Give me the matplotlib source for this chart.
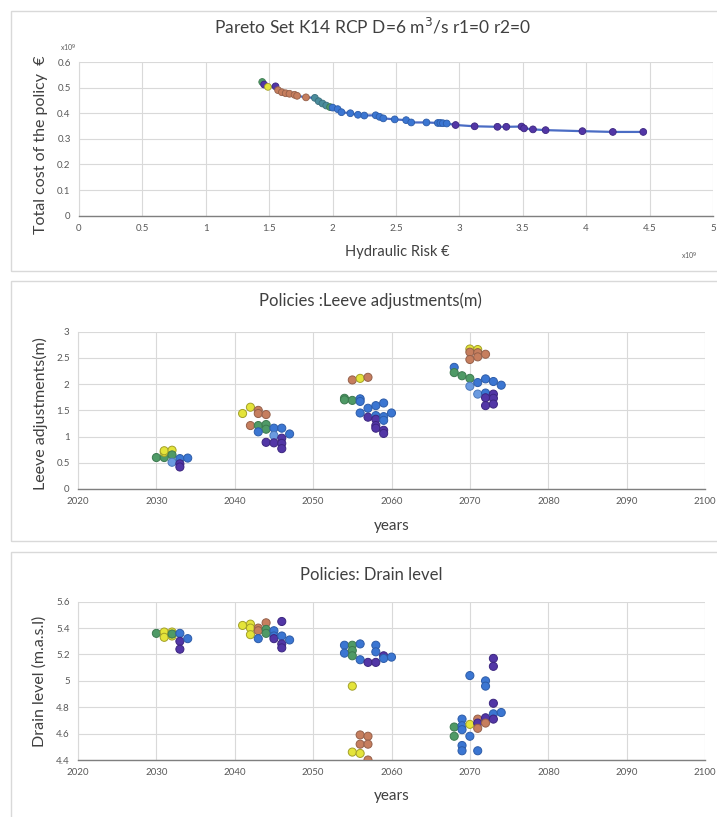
import matplotlib.pyplot as plt
import numpy as np
from matplotlib.patches import Rectangle

plt.rcParams['font.family'] = ['Lato', 'DejaVu Sans']

# Pareto front (x10^9 EUR)
pareto_risk = [1.445, 1.46, 1.49, 1.55, 1.57, 1.60, 1.63, 1.66, 1.70, 1.72, 1.79, 1.86,
               1.89, 1.92, 1.95, 1.98, 2.00, 2.04, 2.07, 2.14, 2.20, 2.25, 2.34, 2.37,
               2.40, 2.49, 2.58, 2.62, 2.74, 2.83, 2.85, 2.87, 2.90, 2.97, 3.12, 3.30,
               3.37, 3.49, 3.51, 3.58, 3.68, 3.97, 4.21, 4.45]
pareto_cost = [0.522, 0.512, 0.503, 0.505, 0.490, 0.482, 0.478, 0.476, 0.472, 0.468, 0.462, 0.460,
               0.447, 0.438, 0.430, 0.424, 0.422, 0.416, 0.404, 0.400, 0.394, 0.391, 0.392, 0.386,
               0.380, 0.376, 0.373, 0.364, 0.364, 0.362, 0.362, 0.361, 0.360, 0.354, 0.349, 0.347,
               0.347, 0.348, 0.341, 0.337, 0.334, 0.330, 0.327, 0.327]
pareto_group = ['G', 'P', 'Y', 'P', 'O', 'O', 'O', 'O', 'O', 'O', 'O', 'T',
                'T', 'T', 'T', 'G', 'B', 'B', 'B', 'B', 'B', 'B', 'B', 'B',
                'B', 'B', 'B', 'B', 'B', 'B', 'B', 'B', 'B', 'P', 'P', 'P',
                'P', 'P', 'P', 'P', 'P', 'P', 'P', 'P']

# Leeve adjustments (m)
leeve_years = [2030, 2031, 2031, 2031, 2032, 2032, 2032, 2033, 2033, 2033, 2034,
               2041, 2042, 2043, 2043, 2044, 2042, 2043, 2044, 2044, 2043, 2045, 2046, 2045, 2047,
               2044, 2045, 2046, 2046, 2046,
               2054, 2054, 2055, 2056, 2056, 2055, 2056, 2057, 2057, 2058, 2059, 2056, 2057,
               2058, 2058, 2058, 2058, 2059, 2059, 2059, 2059, 2060,
               2070, 2071, 2070, 2071, 2071, 2070, 2072, 2068, 2068, 2069, 2070, 2070, 2071,
               2072, 2073, 2074, 2071, 2072, 2072, 2072, 2073, 2073, 2073]
leeve_values = [0.60, 0.60, 0.70, 0.73, 0.74, 0.65, 0.51, 0.58, 0.48, 0.42, 0.59,
                1.44, 1.56, 1.50, 1.44, 1.42, 1.21, 1.21, 1.23, 1.14, 1.09, 1.16, 1.16, 1.02, 1.05,
                0.89, 0.88, 0.97, 0.87, 0.77,
                1.73, 1.70, 1.69, 1.72, 1.67, 2.08, 2.11, 2.13, 1.54, 1.59, 1.64, 1.45, 1.37,
                1.40, 1.33, 1.21, 1.16, 1.38, 1.31, 1.12, 1.06, 1.45,
                2.67, 2.66, 2.61, 2.60, 2.52, 2.47, 2.57, 2.32, 2.22, 2.16, 2.11, 1.96, 2.03,
                2.10, 2.05, 1.98, 1.81, 1.83, 1.74, 1.59, 1.81, 1.73, 1.62]
leeve_group = ['G', 'G', 'Y', 'Y', 'Y', 'G', 'L', 'B', 'P', 'P', 'B',
               'Y', 'Y', 'O', 'O', 'O', 'O', 'G', 'G', 'G', 'B', 'B', 'B', 'L', 'B',
               'P', 'P', 'P', 'P', 'P',
               'G', 'G', 'G', 'B', 'B', 'O', 'Y', 'O', 'B', 'B', 'B', 'B', 'P',
               'B', 'P', 'P', 'P', 'B', 'B', 'P', 'P', 'B',
               'Y', 'Y', 'O', 'O', 'O', 'O', 'O', 'B', 'G', 'G', 'G', 'L', 'B',
               'B', 'B', 'B', 'L', 'B', 'P', 'P', 'P', 'P', 'P']

# Drain level (m.a.s.l)
drain_years = [2030, 2031, 2031, 2032, 2032, 2032, 2033, 2033, 2033, 2034,
               2041, 2042, 2042, 2042, 2043, 2043, 2043, 2044, 2044, 2044, 2045, 2045, 2045,
               2046, 2046, 2046, 2046, 2047,
               2054, 2054, 2055, 2055, 2055, 2056, 2056, 2057, 2058, 2058, 2058, 2059, 2059,
               2060, 2055, 2056, 2056, 2057, 2057, 2055, 2056, 2057,
               2068, 2068, 2069, 2069, 2069, 2069, 2069, 2070, 2070, 2070, 2071, 2071, 2071,
               2071, 2072, 2072, 2072, 2072, 2073, 2073, 2073, 2073, 2073, 2074]
drain_values = [5.36, 5.37, 5.33, 5.37, 5.34, 5.355, 5.36, 5.30, 5.24, 5.32,
                5.42, 5.43, 5.40, 5.35, 5.40, 5.38, 5.32, 5.44, 5.39, 5.36, 5.38, 5.34, 5.32,
                5.45, 5.34, 5.28, 5.25, 5.31,
                5.27, 5.21, 5.27, 5.23, 5.19, 5.28, 5.16, 5.14, 5.27, 5.22, 5.14, 5.19, 5.17,
                5.18, 4.96, 4.59, 4.52, 4.58, 4.52, 4.46, 4.45, 4.40,
                4.65, 4.58, 4.71, 4.66, 4.63, 4.51, 4.47, 5.04, 4.67, 4.58, 4.71, 4.68, 4.64,
                4.47, 5.00, 4.96, 4.72, 4.68, 5.17, 5.11, 4.83, 4.75, 4.71, 4.76]
drain_group = ['G', 'Y', 'Y', 'Y', 'Y', 'G', 'B', 'P', 'P', 'B',
               'Y', 'Y', 'Y', 'Y', 'O', 'O', 'B', 'O', 'G', 'G', 'B', 'B', 'P',
               'P', 'B', 'P', 'P', 'B',
               'B', 'B', 'G', 'G', 'G', 'B', 'B', 'P', 'B', 'B', 'P', 'P', 'B',
               'B', 'Y', 'O', 'O', 'O', 'O', 'Y', 'Y', 'O',
               'G', 'G', 'B', 'B', 'B', 'B', 'B', 'B', 'Y', 'B', 'O', 'P', 'O',
               'B', 'B', 'B', 'P', 'O', 'P', 'P', 'P', 'B', 'P', 'B']

face = {'Y': '#e4e43a', 'O': '#c67e5e', 'G': '#4f9a66', 'T': '#4a8c9c',
        'L': '#6b9be0', 'B': '#3b76d2', 'P': '#5236a6'}
edge = {'Y': '#a3a028', 'O': '#95604a', 'G': '#3d7a50', 'T': '#3a6e7c',
        'L': '#4c79bb', 'B': '#2d5ca8', 'P': '#3c2680'}

W, H = 717, 817
fig = plt.figure(figsize=(W / 100, H / 100), dpi=100)


def box(x0, y0, x1, y1):
    return [x0 / W, 1 - y1 / H, (x1 - x0) / W, (y1 - y0) / H]


def ftext(x, y, s, **kw):
    fig.text(x / W, 1 - y / H, s, ha=kw.pop('ha', 'center'), va=kw.pop('va', 'center'), **kw)


# chart frames
for y0, y1 in [(11, 271), (281, 541), (552, 830)]:
    fig.patches.append(Rectangle((11 / W, 1 - y1 / H), 1, (y1 - y0) / H,
                                 transform=fig.transFigure, fill=False,
                                 edgecolor='#d9d9d9', linewidth=1))

grid_c = '#d9d9d9'
tick_c = '#595959'
text_c = '#404040'


def style(ax):
    ax.grid(True, color=grid_c, linewidth=0.8)
    ax.set_axisbelow(True)
    for s in ['top', 'right']:
        ax.spines[s].set_visible(False)
    ax.spines['left'].set_color(grid_c)
    ax.spines['bottom'].set_color('#7f7f7f')
    ax.spines['bottom'].set_linewidth(1.0)
    ax.tick_params(length=0, labelsize=7, colors=tick_c, pad=6)


# Panel 1
ax1 = fig.add_axes(box(79, 62, 713, 215.7))
style(ax1)
ax1.plot(pareto_risk, pareto_cost, color='#4a6cc4', linewidth=1.6, zorder=2)
ax1.scatter(pareto_risk, pareto_cost, s=24,
            c=[face[g] for g in pareto_group], edgecolors=[edge[g] for g in pareto_group],
            linewidths=0.6, zorder=3)
ax1.set_xlim(0, 5)
ax1.set_ylim(0, 0.6)
ax1.set_xticks(np.arange(0, 5.01, 0.5))
ax1.set_xticklabels(['0', '0.5', '1', '1.5', '2', '2.5', '3', '3.5', '4', '4.5', '5'])
ax1.set_yticks(np.arange(0, 0.61, 0.1))
ax1.set_yticklabels(['0', '0.1', '0.2', '0.3', '0.4', '0.5', '0.6'])
ftext(373, 26, 'Pareto Set K14 RCP D=6 m$^3$/s r1=0 r2=0', fontsize=12.5, color=text_c)
ftext(41, 145, 'Total cost of the policy  €', fontsize=11.5, color=text_c, rotation=90)
ftext(397, 252, 'Hydraulic Risk €', fontsize=10.5, color=text_c)
ftext(68, 48, 'x10$^9$', fontsize=5, color=tick_c)
ftext(689, 256, 'x10$^9$', fontsize=5, color=tick_c)

# Panel 2
ax2 = fig.add_axes(box(78, 331.7, 705, 489))
style(ax2)
ax2.scatter(leeve_years, leeve_values, s=34,
            c=[face[g] for g in leeve_group], edgecolors=[edge[g] for g in leeve_group],
            linewidths=0.7, zorder=3)
ax2.set_xlim(2020, 2100)
ax2.set_ylim(0, 3)
ax2.set_xticks(range(2020, 2101, 10))
ax2.set_yticks([0, 0.5, 1, 1.5, 2, 2.5, 3])
ax2.set_yticklabels(['0', '0.5', '1', '1.5', '2', '2.5', '3'])
ftext(370, 301, 'Policies :Leeve adjustments(m)', fontsize=12, color=text_c)
ftext(40, 414, 'Leeve adjustments(m)', fontsize=11.5, color=text_c, rotation=90)
ftext(392, 526, 'years', fontsize=11, color=text_c)

# Panel 3
ax3 = fig.add_axes(box(78, 601.7, 705, 760))
style(ax3)
ax3.scatter(drain_years, drain_values, s=34,
            c=[face[g] for g in drain_group], edgecolors=[edge[g] for g in drain_group],
            linewidths=0.7, zorder=3)
ax3.set_xlim(2020, 2100)
ax3.set_ylim(4.4, 5.6)
ax3.set_xticks(range(2020, 2101, 10))
ax3.set_yticks([4.4, 4.6, 4.8, 5.0, 5.2, 5.4, 5.6])
ax3.set_yticklabels(['4.4', '4.6', '4.8', '5', '5.2', '5.4', '5.6'])
ftext(371, 575, 'Policies: Drain level', fontsize=12, color=text_c)
ftext(40, 681, 'Drain level (m.a.s.l)', fontsize=11.5, color=text_c, rotation=90)
ftext(392, 796, 'years', fontsize=11, color=text_c)

fig.savefig('out.png', dpi=100)
